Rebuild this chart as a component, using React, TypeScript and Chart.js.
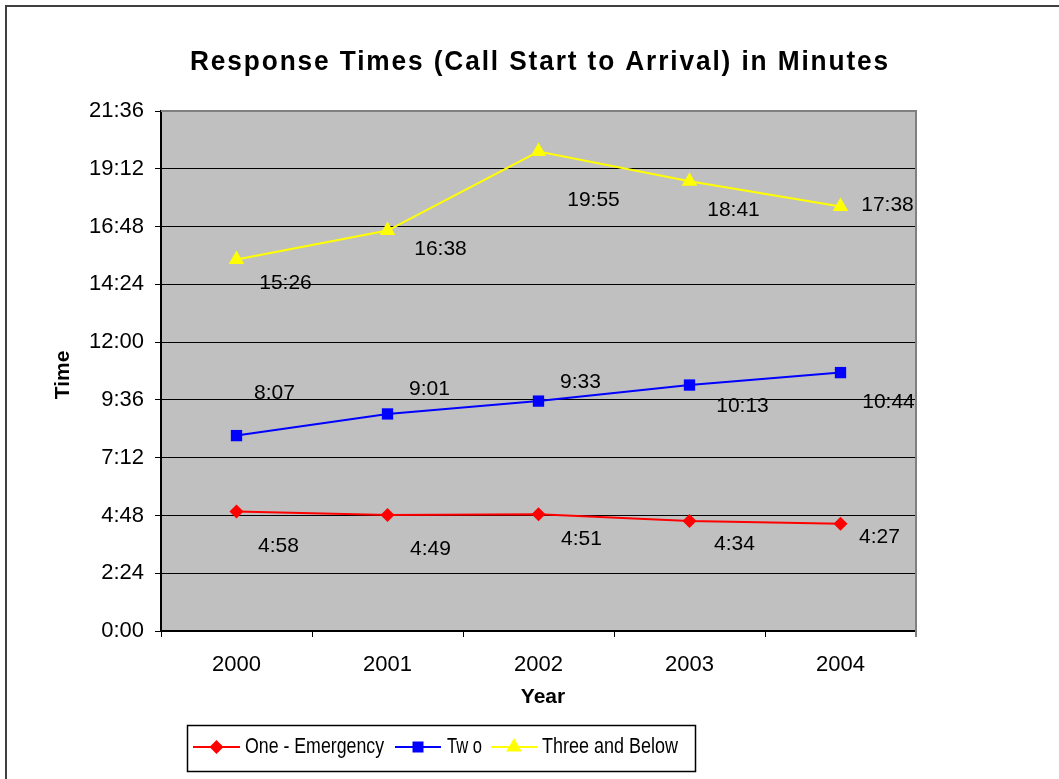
import { useEffect, useRef } from 'react';
import { Chart, registerables } from 'chart.js';

Chart.register(...registerables);

const years = ['2000', '2001', '2002', '2003', '2004'];
// values in seconds
const oneEmergency = [298, 289, 291, 274, 267];
const two = [487, 541, 573, 613, 644];
const threeAndBelow = [926, 998, 1195, 1121, 1058];
const yMax = 1296; // 21:36
const yStep = 144; // 2:24

const seriesNames = ['One - Emergency', 'Tw o', 'Three and Below'];
const seriesColors = ['#FF0000', '#0000FF', '#FFFF00'];
const seriesMarkers = ['rectRot', 'rect', 'triangle'];

const titleText = 'Response Times (Call Start to Arrival) in Minutes';
const FONT = '"Liberation Sans", Arial, Helvetica, sans-serif';

// label offsets (style) relative to each point
const labelOffsets = [
  [[42, 35], [43, 34], [43, 25], [45, 23], [39, 13]],
  [[38, -42], [42, -25], [42, -19], [53, 21], [48, 30]],
  [[49, 24], [53, 19], [55, 49], [44, 29], [47, -1]],
];

const fmt = (s: number) => `${Math.floor(s / 60)}:${String(Math.round(s % 60)).padStart(2, '0')}`;

function drawMarker(ctx: CanvasRenderingContext2D, kind: string, x: number, y: number, color: string) {
  ctx.fillStyle = color;
  ctx.beginPath();
  if (kind === 'rectRot') {
    const r = 7;
    ctx.moveTo(x, y - r); ctx.lineTo(x + r, y); ctx.lineTo(x, y + r); ctx.lineTo(x - r, y);
  } else if (kind === 'rect') {
    const h = 5.5;
    ctx.rect(x - h, y - h, 2 * h, 2 * h);
  } else {
    const r = 9;
    ctx.moveTo(x, y - r); ctx.lineTo(x + r * 0.866, y + r * 0.5); ctx.lineTo(x - r * 0.866, y + r * 0.5);
  }
  ctx.closePath();
  ctx.fill();
}

const decor = {
  id: 'decor',
  beforeDraw(chart: any) {
    const { ctx, chartArea: a } = chart;
    ctx.save();
    ctx.fillStyle = '#ffffff';
    ctx.fillRect(0, 0, chart.width, chart.height);
    ctx.strokeStyle = '#404040';
    ctx.lineWidth = 2;
    ctx.strokeRect(6, 6, chart.width + 40, chart.height + 40);
    ctx.fillStyle = '#C0C0C0';
    ctx.fillRect(a.left, a.top, a.right - a.left, a.bottom - a.top);

    // title
    ctx.fillStyle = '#000';
    ctx.font = `bold 28px ${FONT}`;
    ctx.textAlign = 'center';
    ctx.textBaseline = 'alphabetic';
    (ctx as any).letterSpacing = '2px';
    ctx.fillText(titleText, 540, 70, 700);
    (ctx as any).letterSpacing = '0px';

    // axis titles
    ctx.font = `bold 21px ${FONT}`;
    ctx.textBaseline = 'middle';
    ctx.fillText('Year', 543, 697);
    ctx.save();
    ctx.translate(63, 375);
    ctx.rotate(-Math.PI / 2);
    ctx.fillText('Time', 0, 0);
    ctx.restore();
    ctx.restore();
  },
  beforeDatasetsDraw(chart: any) {
    const { ctx, chartArea: a } = chart;
    ctx.save();
    ctx.strokeStyle = '#808080';
    ctx.lineWidth = 2;
    ctx.beginPath();
    ctx.moveTo(a.left, a.top);
    ctx.lineTo(a.right, a.top);
    ctx.lineTo(a.right, a.bottom + 6);
    ctx.stroke();
    ctx.restore();
  },
  afterDatasetsDraw(chart: any) {
    const { ctx } = chart;
    ctx.save();
    ctx.fillStyle = '#000';
    ctx.font = `21px ${FONT}`;
    ctx.textAlign = 'center';
    ctx.textBaseline = 'middle';
    chart.data.datasets.forEach((ds: any, di: number) => {
      const meta = chart.getDatasetMeta(di);
      meta.data.forEach((pt: any, i: number) => {
        const [dx, dy] = labelOffsets[di][i];
        ctx.fillText(fmt(ds.data[i]), pt.x + dx, pt.y + dy);
      });
    });
    ctx.restore();
  },
  afterDraw(chart: any) {
    const { ctx } = chart;
    ctx.save();
    // legend box
    ctx.strokeStyle = '#000';
    ctx.lineWidth = 1.5;
    ctx.strokeRect(187.5, 725.5, 508, 46);
    const items = [
      { x0: 193, x1: 240, tx: 245, tw: 139 },
      { x0: 395, x1: 441, tx: 447, tw: 35 },
      { x0: 491, x1: 537, tx: 542, tw: 136 },
    ];
    const cy = 747;
    items.forEach((it, i) => {
      ctx.strokeStyle = seriesColors[i];
      ctx.lineWidth = 2;
      ctx.beginPath();
      ctx.moveTo(it.x0, cy);
      ctx.lineTo(it.x1, cy);
      ctx.stroke();
      drawMarker(ctx, seriesMarkers[i], (it.x0 + it.x1) / 2, cy, seriesColors[i]);
      ctx.fillStyle = '#000';
      ctx.font = `22px ${FONT}`;
      ctx.textAlign = 'left';
      ctx.textBaseline = 'middle';
      ctx.fillText(seriesNames[i], it.tx, cy, it.tw);
    });
    ctx.restore();
  },
};

export default function App() {
  const ref = useRef<HTMLCanvasElement | null>(null);
  useEffect(() => {
    if (!ref.current) return;
    const seriesData = [oneEmergency, two, threeAndBelow];
    const chart = new Chart(ref.current, {
      type: 'line',
      data: {
        labels: years,
        datasets: seriesData.map((d, i) => ({
          label: seriesNames[i],
          data: d,
          borderColor: seriesColors[i],
          backgroundColor: seriesColors[i],
          borderWidth: 2,
          pointStyle: seriesMarkers[i] as any,
          pointRadius: i === 0 ? 7 : i === 1 ? 8 : 9,
          pointBorderWidth: 0,
          pointBackgroundColor: seriesColors[i],
          pointBorderColor: seriesColors[i],
          tension: 0,
          fill: false,
        })),
      },
      options: {
        animation: false,
        responsive: false,
        maintainAspectRatio: false,
        events: [],
        layout: { padding: { left: 0, top: 111, right: 143, bottom: 0 } },
        plugins: {
          legend: { display: false },
          title: { display: false },
          tooltip: { enabled: false },
        },
        scales: {
          x: {
            type: 'category',
            offset: true,
            afterFit: (s: any) => { s.height = 148; },
            grid: {
              offset: true,
              drawOnChartArea: false,
              drawTicks: true,
              tickLength: 6,
              color: '#000',
              lineWidth: 1,
            },
            border: { display: true, color: '#000', width: 2 },
            ticks: {
              color: '#000',
              font: { family: FONT, size: 22 },
              padding: 15,
              maxRotation: 0,
            },
          },
          y: {
            min: 0,
            max: yMax,
            afterFit: (s: any) => { s.width = 161; },
            grid: {
              color: '#000',
              lineWidth: 1,
              tickLength: 6,
              drawTicks: true,
            },
            border: { display: true, color: '#000', width: 2 },
            ticks: {
              stepSize: yStep,
              color: '#000',
              font: { family: FONT, size: 22 },
              padding: 11,
              callback: (v: any) => fmt(Number(v)),
            },
          },
        },
      },
      plugins: [decor],
    });
    return () => chart.destroy();
  }, []);
  return (
    <div style={{ position: 'fixed', left: 0, top: 0, width: 1059, height: 779 }}>
      <canvas ref={ref} width={1059} height={779} style={{ display: 'block', width: 1059, height: 779 }} />
    </div>
  );
}
